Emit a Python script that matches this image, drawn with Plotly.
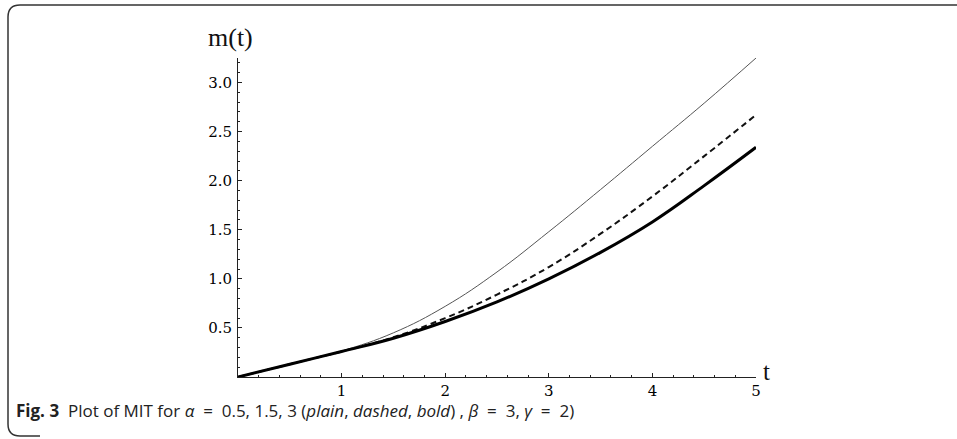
import plotly.graph_objects as go

# ---- data ----
t = [0, 0.5, 1, 1.5, 2, 2.5, 3, 3.5, 4, 4.5, 5]
m_plain = [0, 0.13, 0.265, 0.45, 0.72, 1.07, 1.48, 1.91, 2.35, 2.79, 3.25]    # alpha = 0.5
m_dashed = [0, 0.13, 0.26, 0.405, 0.60, 0.84, 1.12, 1.46, 1.84, 2.25, 2.67]   # alpha = 1.5
m_bold = [0, 0.13, 0.26, 0.395, 0.565, 0.765, 1.00, 1.27, 1.58, 1.95, 2.34]   # alpha = 3
x_ticks = [1, 2, 3, 4, 5]
y_ticks = [0.5, 1.0, 1.5, 2.0, 2.5, 3.0]
y_tick_text = ["0.5", "1.0", "1.5", "2.0", "2.5", "3.0"]

W, H = 957, 439
ML, MR, MT, MB = 238, 201, 58, 62
PW, PH = W - ML - MR, H - MT - MB


def px(x):
    return (x - ML) / PW


def py(y):
    return (H - MB - y) / PH


fig = go.Figure()
fig.add_trace(go.Scatter(x=t, y=m_plain, mode="lines",
                         line=dict(color="#555555", width=1, shape="spline", smoothing=1.2),
                         showlegend=False, hoverinfo="skip"))
fig.add_trace(go.Scatter(x=t, y=m_dashed, mode="lines",
                         line=dict(color="#111111", width=2, dash="6px,4px", shape="spline", smoothing=1.2),
                         showlegend=False, hoverinfo="skip"))
fig.add_trace(go.Scatter(x=t, y=m_bold, mode="lines",
                         line=dict(color="#000000", width=3, shape="spline", smoothing=1.2),
                         showlegend=False, hoverinfo="skip"))

tick_font = dict(family="DejaVu Serif", size=15, color="#000000")
fig.update_xaxes(range=[0, 5], showgrid=False, zeroline=False, showline=True, linecolor="#222222", linewidth=1,
                 ticks="inside", ticklen=4, tickwidth=1, tickcolor="#222222", ticklabelstandoff=0,
                 tickvals=x_ticks, ticktext=[str(v) for v in x_ticks], tickfont=tick_font,
                 minor=dict(ticks="inside", ticklen=2, dtick=0.2, tick0=0, tickcolor="#222222", showgrid=False),
                 fixedrange=True)
fig.update_yaxes(range=[0, 3.25], showgrid=False, zeroline=False, showline=True, linecolor="#222222", linewidth=1,
                 ticks="inside", ticklen=4, tickwidth=1, tickcolor="#222222", ticklabelstandoff=2,
                 tickvals=y_ticks, ticktext=y_tick_text, tickfont=tick_font,
                 minor=dict(ticks="inside", ticklen=2, dtick=0.1, tick0=0, tickcolor="#222222", showgrid=False),
                 fixedrange=True)

# axis labels
fig.add_annotation(x=px(230), y=py(38), xref="paper", yref="paper", text="m(t)", showarrow=False,
                   font=dict(family="Liberation Serif", size=26, color="#111111"), xanchor="center", yanchor="middle")
fig.add_annotation(x=px(766), y=py(371), xref="paper", yref="paper", text="t", showarrow=False,
                   font=dict(family="Liberation Serif", size=25, color="#111111"), xanchor="center", yanchor="middle")

# caption
fig.add_annotation(x=px(14), y=py(410), xref="paper", yref="paper", xanchor="left", yanchor="middle",
                   showarrow=False, align="left",
                   text="<b>Fig. 3</b>  Plot of MIT for <i>α</i>  =  0.5, 1.5, 3 (<i>plain</i>, <i>dashed</i>, "
                        "<i>bold</i>) , <i>β</i>  =  3, <i>γ</i>  =  2)",
                   font=dict(family="Open Sans", size=17, color="#222222"))

# rounded frame
r = 12
path = (f"M {px(965)},{py(5)} L {px(8 + r)},{py(5)} Q {px(8)},{py(5)} {px(8)},{py(5 + r)} "
        f"L {px(8)},{py(436 - r)} Q {px(8)},{py(436)} {px(8 + r)},{py(436)} L {px(40)},{py(436)}")
fig.add_shape(type="path", path=path, xref="paper", yref="paper", line=dict(color="#333333", width=1.5))

fig.update_layout(width=W, height=H, margin=dict(l=ML, r=MR, t=MT, b=MB, pad=0),
                  paper_bgcolor="white", plot_bgcolor="white")
fig.write_html("out.html")
